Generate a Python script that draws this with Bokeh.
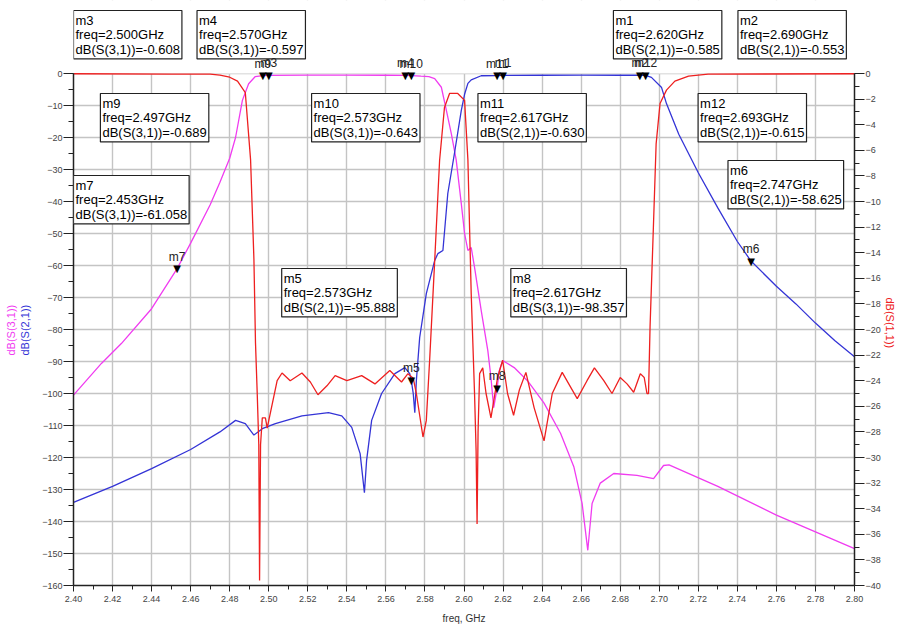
import math
from bokeh.plotting import figure
from bokeh.models import (Range1d, LinearAxis, Label, SingleIntervalTicker, FixedTicker,
                          NumeralTickFormatter, BoxAnnotation, Title)
from bokeh.embed import file_html
from bokeh.resources import INLINE

# ---------------- data ----------------
# dB(S(3,1)) (left axis)
s31_freq = [2.400, 2.4143, 2.4245, 2.440, 2.453, 2.460, 2.470, 2.475, 2.480, 2.483, 2.4865, 2.4897,
            2.493, 2.497, 2.500, 2.520, 2.540, 2.560, 2.570, 2.573, 2.578, 2.582, 2.585, 2.5884,
            2.591, 2.5935, 2.596, 2.5986, 2.6003, 2.602, 2.6037, 2.6054, 2.6088, 2.6122, 2.6138,
            2.6152, 2.6162, 2.617, 2.618, 2.6198, 2.6257, 2.6325, 2.641, 2.6495, 2.6563, 2.6605,
            2.6634, 2.6656, 2.6698, 2.6767, 2.6886, 2.6971, 2.7022, 2.705, 2.730, 2.760, 2.800]
s31_db = [-100.5, -90.6, -84.4, -73.5, -61.06, -53.0, -41.0, -34.0, -26.5, -20.0, -8.4, -3.2,
          -1.0, -0.689, -0.608, -0.52, -0.50, -0.55, -0.597, -0.643, -0.85, -1.0, -1.6, -4.3,
          -11.6, -18.8, -27.0, -40.6, -50.0, -55.3, -54.4, -60.6, -74.0, -86.6, -95.0,
          -104.4, -101.0, -98.36, -93.0, -89.7, -91.9, -96.0, -103.0, -112.5, -123.0, -134.4,
          -149.0, -134.4, -128.0, -125.0, -125.6, -126.6, -122.5, -122.3, -129.0, -138.0, -148.5]

# dB(S(2,1)) (left axis)
s21_freq = [2.400, 2.420, 2.440, 2.460, 2.475, 2.483, 2.488, 2.4924, 2.4967, 2.5034, 2.517, 2.5306,
            2.5374, 2.5425, 2.5468, 2.549, 2.5501, 2.5527, 2.5578, 2.5646, 2.5697, 2.5722, 2.573,
            2.574, 2.5748, 2.5756, 2.5773, 2.5807, 2.585, 2.5866, 2.5892, 2.5917, 2.5951, 2.5986,
            2.6003, 2.602, 2.6037, 2.6088, 2.617, 2.620, 2.640, 2.660, 2.680, 2.690, 2.693, 2.696,
            2.7012, 2.7037, 2.710, 2.720, 2.730, 2.740, 2.747, 2.760, 2.770, 2.780, 2.790, 2.800]
s21_db = [-134.0, -129.0, -123.5, -117.5, -112.0, -108.4, -109.4, -113.0, -111.0, -109.4, -107.0, -106.0,
          -107.0, -110.6, -118.8, -131.0, -121.0, -108.4, -100.0, -93.8, -91.9, -93.8, -95.9,
          -100.0, -106.0, -96.0, -82.5, -68.8, -58.4, -56.3, -55.3, -37.5, -25.0, -11.6,
          -6.5, -3.1, -2.0, -0.7, -0.63, -0.585, -0.55, -0.53, -0.54, -0.553, -0.615, -1.2,
          -4.4, -9.4, -19.0, -31.0, -42.0, -52.5, -58.6, -66.5, -72.0, -78.0, -83.5, -88.5]

# dB(S(1,1)) (right axis)
s11_freq = [2.400, 2.450, 2.470, 2.475, 2.480, 2.484, 2.488, 2.4907, 2.4924, 2.4932, 2.4941, 2.4949,
            2.4953, 2.4958, 2.4967, 2.4983, 2.4992, 2.5043, 2.5068, 2.511, 2.517, 2.5213, 2.5252,
            2.5298, 2.534, 2.540, 2.5476, 2.5544, 2.562, 2.568, 2.5713, 2.574, 2.5756, 2.579,
            2.5807, 2.5824, 2.585, 2.5875, 2.590, 2.5926, 2.5968, 2.6003, 2.602, 2.6037, 2.6054,
            2.6062, 2.6067, 2.6072, 2.608, 2.6096, 2.6113, 2.6138, 2.6172, 2.6198, 2.6223, 2.6254,
            2.6283, 2.6317, 2.6359, 2.641, 2.6452, 2.6503, 2.6546, 2.658, 2.663, 2.6668, 2.6716,
            2.6758, 2.680, 2.6835, 2.6869, 2.6903, 2.6923, 2.6937, 2.6945, 2.6953, 2.697, 2.6984,
            2.7004, 2.7037, 2.708, 2.715, 2.725, 2.800]
s11_db = [-0.02, -0.05, -0.05, -0.12, -0.29, -0.6, -1.5, -6.75, -14.5, -21.0, -25.0, -29.0,
          -39.6, -29.0, -26.9, -26.9, -27.7, -24.0, -23.4, -24.0, -23.4, -24.1, -25.1,
          -24.4, -23.6, -24.0, -23.6, -24.25, -23.2, -24.1, -23.45, -23.8, -25.0, -28.4,
          -27.1, -22.4, -14.6, -6.8, -2.65, -1.56, -1.56, -2.1, -6.75, -17.25, -25.0,
          -29.5, -35.2, -28.0, -23.45, -23.0, -25.0, -26.9, -23.75, -22.4, -25.0, -26.7,
          -24.75, -23.35, -26.1, -28.7, -25.0, -23.35, -24.5, -25.4, -24.0, -23.0, -24.0,
          -25.0, -23.75, -24.25, -24.9, -23.45, -23.75, -25.0, -25.0, -19.75, -12.0, -5.5,
          -2.35, -1.3, -0.6, -0.2, -0.05, -0.02]

# markers
mk_names = ["m1", "m2", "m3", "m4", "m5", "m6", "m7", "m8", "m9", "m10", "m11", "m12"]
mk_freq = [2.620, 2.690, 2.500, 2.570, 2.573, 2.747, 2.453, 2.617, 2.497, 2.573, 2.617, 2.693]
mk_trace = ["S(2,1)", "S(2,1)", "S(3,1)", "S(3,1)", "S(2,1)", "S(2,1)", "S(3,1)", "S(3,1)",
            "S(3,1)", "S(3,1)", "S(2,1)", "S(2,1)"]
mk_val = [-0.585, -0.553, -0.608, -0.597, -95.888, -58.625, -61.058, -98.357,
          -0.689, -0.643, -0.630, -0.615]

x_ticks = [2.40, 2.42, 2.44, 2.46, 2.48, 2.50, 2.52, 2.54, 2.56, 2.58, 2.60,
           2.62, 2.64, 2.66, 2.68, 2.70, 2.72, 2.74, 2.76, 2.78, 2.80]

# ---------------- layout (page pixels) ----------------
box_px = {"m3": (73, 10), "m4": (197, 10), "m1": (615, 10), "m2": (740, 10),
          "m9": (100, 93), "m10": (312, 93), "m11": (479, 93), "m12": (700, 93),
          "m7": (73, 175), "m6": (730, 160), "m5": (282, 268), "m8": (512, 268)}

W, H = 897, 626
FX0, FX1, PX0, PX1 = 2.40, 2.80, 73.0, 857.0
PY0, PY1, DB0, DB1 = 73.0, 585.0, 0.0, -160.0
R0, R1 = 0.0, -40.0
LEFT_TITLE_START = 355   # page y where the rotated left titles begin (bottom end)
RIGHT_TITLE_START = 297  # page y where the rotated right title begins (top end)


def dx(px):
    return FX0 + (px - PX0) * (FX1 - FX0) / (PX1 - PX0)


def dy(py):
    return DB0 + (py - PY0) * (DB1 - DB0) / (PY1 - PY0)


Y_TOP = dy(0)
R_TOP = R0 + (Y_TOP - DB0) * (R1 - R0) / (DB1 - DB0)

FONT = "Liberation Sans"
MAG = "#f03cf0"
BLU = "#3434d6"
RED = "#ee2020"

p = figure(width=W, height=H, output_backend="svg", toolbar_location=None,
           x_range=Range1d(FX0, FX1), y_range=Range1d(DB1, Y_TOP),
           min_border_left=int(PX0), min_border_right=int(W - PX1), min_border_top=0,
           min_border_bottom=int(H - PY1))
p.extra_y_ranges = {"s11": Range1d(R1, R_TOP)}
p.outline_line_color = None
p.background_fill_color = "white"
p.border_fill_color = "white"

xax = p.xaxis[0]
xax.ticker = FixedTicker(ticks=x_ticks, minor_ticks=[round(t + 0.01, 2) for t in x_ticks[:-1]])
xax.formatter = NumeralTickFormatter(format="0.00")
yax = p.yaxis[0]
yax.ticker = SingleIntervalTicker(interval=10, num_minor_ticks=2)
yax.bounds = (DB1, DB0)
rax = LinearAxis(y_range_name="s11", ticker=SingleIntervalTicker(interval=2, num_minor_ticks=2),
                 bounds=(R1, R0))
p.add_layout(rax, "right")

for ax in (xax, yax, rax):
    ax.axis_line_color = "#222222"
    ax.axis_line_width = 1.5
    ax.major_tick_line_color = "#222222"
    ax.minor_tick_line_color = "#222222"
    ax.major_tick_in = 0
    ax.minor_tick_in = 0
    ax.major_label_text_font = FONT
    ax.major_label_text_font_size = "9px"
    ax.major_label_text_color = "#444444"
    ax.axis_label_text_font = FONT
    ax.axis_label_text_font_style = "normal"
    ax.axis_label_text_font_size = "11px"
xax.major_tick_out = 6
xax.minor_tick_out = 4
xax.major_label_standoff = 4
xax.axis_label = "freq, GHz"
xax.axis_label_standoff = 8
xax.axis_label_text_font_size = "10px"
xax.axis_label_text_color = "#333333"
yax.major_tick_out = 10
yax.minor_tick_out = 5
yax.major_label_standoff = 1
# invisible spacer between tick labels and the left titles
yax.axis_label = "\u00a0"
yax.axis_label_text_font_size = "1px"
yax.axis_label_standoff = 5
rax.major_tick_out = 10
rax.minor_tick_out = 5
rax.major_label_standoff = 1

# axis titles as side-panel titles
t_blue = Title(text="dB(S(2,1))", align="left", offset=PY1 - LEFT_TITLE_START, standoff=0,
               text_font=FONT, text_font_size="11px", text_font_style="normal", text_color=BLU)
t_mag = Title(text="dB(S(3,1))", align="left", offset=PY1 - LEFT_TITLE_START, standoff=0,
              text_font=FONT, text_font_size="11px", text_font_style="normal", text_color=MAG)
t_red = Title(text="dB(S(1,1))", align="left", offset=RIGHT_TITLE_START, standoff=0,
              text_font=FONT, text_font_size="11px", text_font_style="normal", text_color=RED)
p.add_layout(t_blue, "left")
p.add_layout(t_mag, "left")
p.add_layout(t_red, "right")

p.xgrid.ticker = FixedTicker(ticks=x_ticks)
p.ygrid.ticker = SingleIntervalTicker(interval=10)
p.ygrid.bounds = (DB1, DB0)
for g in (p.xgrid[0], p.ygrid[0]):
    g.grid_line_color = "#c4c4c4"
    g.grid_line_width = 1.4
# blank the area above 0 dB (vertical grid lines stop at the top of the axes)
p.add_layout(BoxAnnotation(bottom=DB0, fill_color="white", fill_alpha=1.0, line_color=None,
                           level="underlay"))

p.line(s31_freq, s31_db, line_color=MAG, line_width=1.3)
p.line(s21_freq, s21_db, line_color=BLU, line_width=1.3)
p.line(s11_freq, s11_db, line_color=RED, line_width=1.3, y_range_name="s11")

# readout boxes
for name, f, v, tr in zip(mk_names, mk_freq, mk_val, mk_trace):
    bx, by = box_px[name]
    txt = f"{name}\nfreq={f:.3f}GHz\ndB({tr})={v:.3f}"
    p.add_layout(Label(x=dx(bx), y=dy(by), text=txt, text_align="left", text_baseline="top",
                       anchor="top_left", padding=2,
                       text_font=FONT, text_font_size="13px", text_line_height=0.98,
                       text_color="black", background_fill_color="white",
                       border_line_color="#222222", border_line_width=1.2))

# marker triangles and names
for name, f, v in zip(mk_names, mk_freq, mk_val):
    p.add_layout(Label(x=f, y=v, text="\u25bc", text_align="center", text_baseline="alphabetic",
                       text_font="DejaVu Sans", text_font_size="10px", text_color="black"))
    p.add_layout(Label(x=f, y=v, y_offset=5, text=name, text_align="center", text_baseline="bottom",
                       text_font=FONT, text_font_size="12px", text_color="#222222"))

open("out.html", "w").write(file_html(p, INLINE))
